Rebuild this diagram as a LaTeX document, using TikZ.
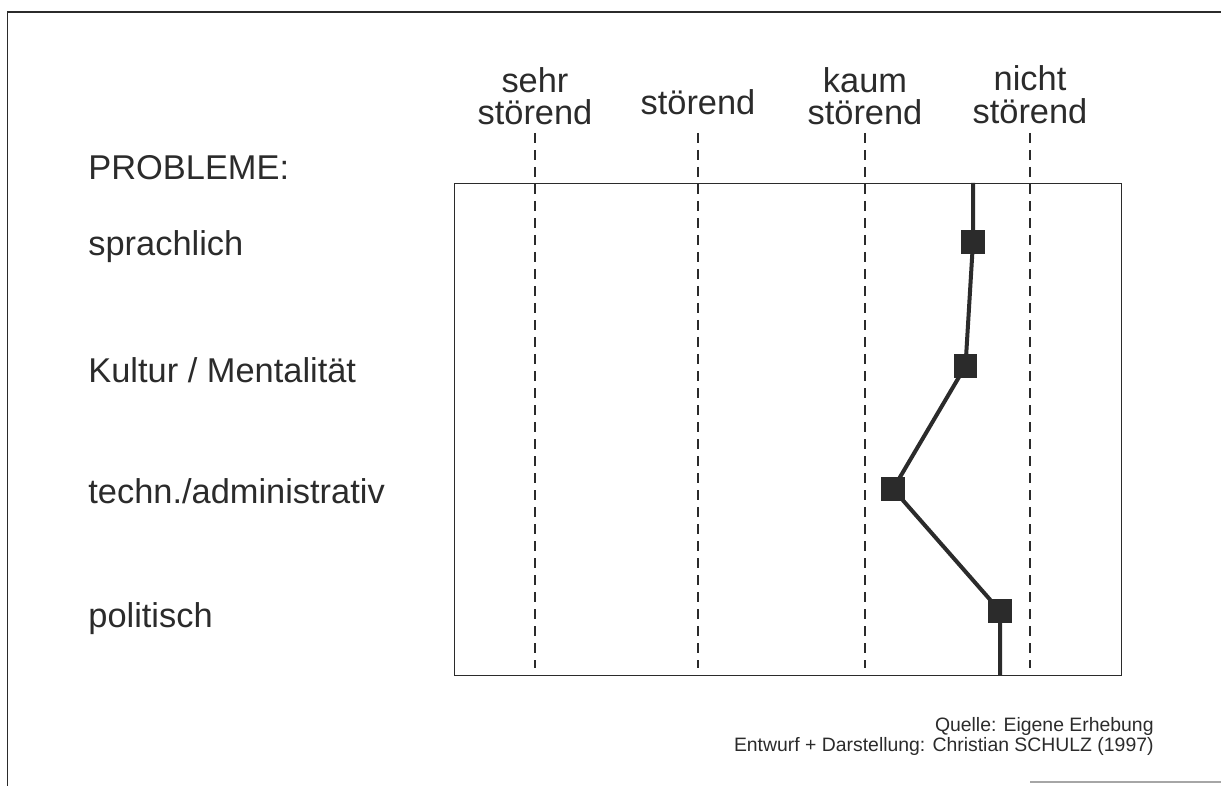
\documentclass[tikz,border=0pt]{standalone}
\usepackage{fontspec}
\setmainfont{Liberation Sans}
\definecolor{ink}{HTML}{2B2B2B}
\begin{document}
\begin{tikzpicture}[x=0.5pt,y=-0.5pt,
  lbl/.style={anchor=base west,inner sep=0pt,text=ink,font=\fontsize{17.2}{20}\selectfont},
  hdr/.style={anchor=base,inner sep=0pt,text=ink,font=\fontsize{17.2}{20}\selectfont},
  foot/.style={anchor=base east,inner sep=0pt,text=ink,font=\fontsize{9.7}{12}\selectfont},
  scaleline/.style={draw=ink,line width=0.75pt,dash pattern=on 5pt off 3.5pt},
  frameline/.style={draw=ink,line width=0.9pt},
  boxline/.style={draw=ink,line width=0.7pt},
  dataline/.style={draw=ink,line width=2pt},
  marker/.style={rectangle,fill=ink,minimum size=11.8pt,inner sep=0pt}]
\useasboundingbox (0,0) rectangle (1221,786);
% outer frame (partial)
\coordinate (fTL) at (7.5,12);
\coordinate (fBL) at (7.5,786);
\coordinate (fTR) at (1221,12);
\draw[frameline] (fBL) -- (fTL) -- (fTR);
\coordinate (fB1) at (1030,782);
\coordinate (fB2) at (1221,782);
\draw[draw=black!35,line width=0.6pt] (fB1) -- (fB2);
% inner box
\node[boxline,rectangle,inner sep=0pt,minimum width=333.5pt,minimum height=246pt,anchor=north west] (box) at (454,183) {};
% header labels
\node[hdr] (h1a) at (535,93) {sehr};
\node[hdr] (h1b) at (535,125) {störend};
\node[hdr] (h2) at (698,115) {störend};
\node[hdr] (h3a) at (865,93) {kaum};
\node[hdr] (h3b) at (865,125) {störend};
\node[hdr] (h4a) at (1030,91) {nicht};
\node[hdr] (h4b) at (1030,124) {störend};
% dashed scale lines
\foreach \i/\x in {1/535,2/698,3/865,4/1030}{
  \coordinate (s\i t) at (\x,133);
  \coordinate (s\i b) at (\x,668);
  \draw[scaleline] (s\i t) -- (s\i b);
}
% row labels
\node[lbl] (probl) at (88,180) {PROBLEME:};
\node[lbl] (r1) at (88,256) {sprachlich};
\node[lbl] (r2) at (88,382) {Kultur / Mentalität};
\node[lbl] (r3) at (88,503) {techn./administrativ};
\node[lbl] (r4) at (88,627) {politisch};
% data profile
\coordinate (ptop) at (973,183);
\coordinate (p1) at (973,242);
\coordinate (p2) at (965.5,366);
\coordinate (p3) at (893,489);
\coordinate (p4) at (1000,611);
\coordinate (pbot) at (1000,675);
\draw[dataline] (ptop) -- (p1) -- (p2) -- (p3) -- (p4) -- (pbot);
\node[marker] (m1) at (p1) {};
\node[marker] (m2) at (p2) {};
\node[marker] (m3) at (p3) {};
\node[marker] (m4) at (p4) {};
% footer
\node[foot] (q1) at (1154,731) {Quelle: Eigene Erhebung};
\node[foot] (q2) at (1154,751) {Entwurf + Darstellung: Christian SCHULZ (1997)};
\end{tikzpicture}
\end{document}
